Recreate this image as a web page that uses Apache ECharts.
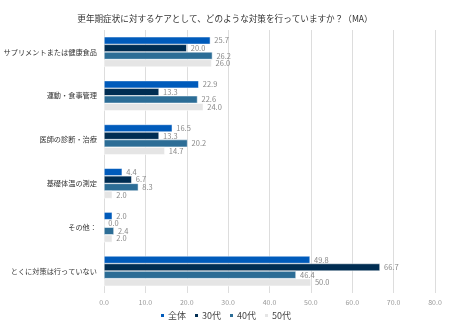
<!DOCTYPE html>
<html><head><meta charset="utf-8">
<script src="https://cdn.jsdelivr.net/npm/echarts@6/dist/echarts.min.js"></script>
<style>html,body{margin:0;padding:0;background:#fff}#c{width:450px;height:329px}</style>
</head><body><div id="c"></div>
<script>
const categories = ['サプリメントまたは健康食品','運動・食事管理','医師の診断・治療','基礎体温の測定','その他：','とくに対策は行っていない'];
const seriesNames = ['全体','30代','40代','50代'];
const all = [25.7, 22.9, 16.5, 4.4, 2.0, 49.8];
const age30 = [20.0, 13.3, 13.3, 6.7, 0.0, 66.7];
const age40 = [26.2, 22.6, 20.2, 8.3, 2.4, 46.4];
const age50 = [26.0, 24.0, 14.7, 2.0, 2.0, 50.0];
const colors = ['#005BBB','#002D52','#2C6D96','#E5E5E5'];
const values = [all, age30, age40, age50];
const chart = echarts.init(document.getElementById('c'));
const font = "'Noto Sans CJK JP', sans-serif";
chart.setOption({
  animation: false,
  textStyle: {fontFamily: font},
  title: {text: '更年期症状に対するケアとして、どのような対策を行っていますか？（MA）', left: 'center', top: 9,
    textStyle: {fontSize: 8.6, fontWeight: 'normal', color: '#333', fontFamily: font}},
  legend: {bottom: 4, left: 'center', itemWidth: 5, itemHeight: 5, itemGap: 7, icon: 'rect',
    textStyle: {fontSize: 9, color: '#444', fontFamily: font, padding: [0,0,0,-2]}},
  grid: {left: 104, right: 15, top: 30, bottom: 36, containLabel: false, outerBoundsMode: 'none'},
  xAxis: {type: 'value', min: 0, max: 80, interval: 10,
    axisLabel: {formatter: v => v.toFixed(1), fontSize: 7, color: '#999', margin: 6},
    splitLine: {lineStyle: {color: '#ddd'}}, axisLine: {show: false}, axisTick: {show: false}},
  yAxis: {type: 'category', data: categories, inverse: true,
    axisLabel: {fontSize: 7.2, color: '#333', margin: 7},
    axisLine: {show: false}, axisTick: {show: false}},
  series: seriesNames.map((n, i) => ({
    name: n, type: 'bar', data: values[i], barGap: '0%', barCategoryGap: '31%',
    itemStyle: {color: colors[i], borderColor: '#fff', borderWidth: 0.5},
    label: {show: true, position: 'right', formatter: p => p.value.toFixed(1), fontSize: 7.5, color: '#888', distance: 4}
  }))
});
</script></body></html>
